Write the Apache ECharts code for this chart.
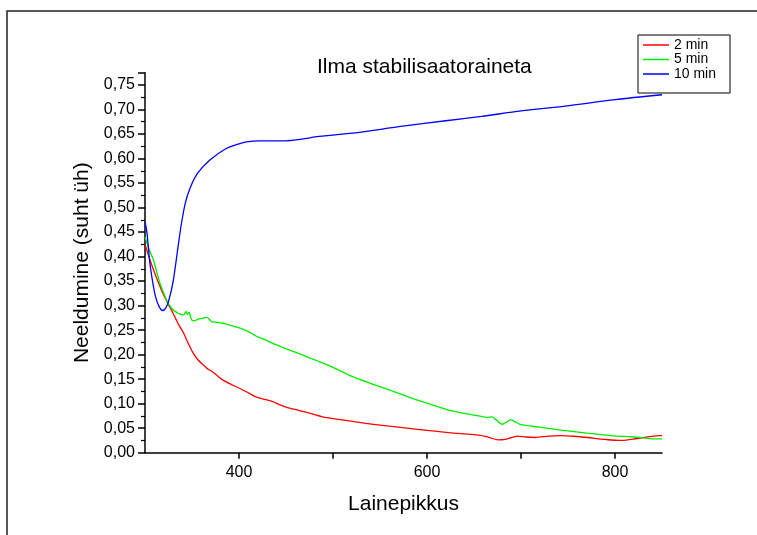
<!DOCTYPE html>
<html>
<head>
<meta charset="utf-8">
<script src="https://cdn.jsdelivr.net/npm/echarts@6/dist/echarts.min.js"></script>
<style>html,body{margin:0;padding:0;background:#fff}#c{width:757px;height:535px}</style>
</head>
<body>
<div id="c"></div>
<script>
var titleText = 'Ilma stabilisaatoraineta';
var xName = 'Lainepikkus';
var yName = 'Neeldumine (suht üh)';
var seriesNames = ['2 min', '5 min', '10 min'];
var xTickValues = [400, 500, 600, 700, 800];
var xLabelValues = [400, 600, 800];

var x2 = [300,305,309,314,319,325,330,335,341,346,351,356,362,366,371,377,383,392,401,410,418,427,436,443,450,464,476,489,510,535,560,588,623,655,665,676,683,690,697,705,715,730,743,760,771,790,807,824,847,850];
var y2 = [0.425,0.395,0.373,0.348,0.325,0.302,0.284,0.264,0.244,0.223,0.204,0.190,0.179,0.172,0.166,0.157,0.148,0.139,0.131,0.122,0.114,0.109,0.104,0.098,0.093,0.086,0.080,0.073,0.067,0.060,0.054,0.048,0.041,0.036,0.032,0.026,0.027,0.031,0.034,0.032,0.031,0.034,0.035,0.033,0.031,0.027,0.025,0.029,0.035,0.035];

var x5 = [300,305,309,312,316,320,323,327,330,334,337,341,343,344,345,347,348,350,353,356,361,365,368,371,377,383,392,401,410,418,427,436,445,454,464,485,500,521,545,570,595,623,640,655,664,669,673,680,685,689,693,699,720,743,770,796,820,847,850];
var y5 = [0.440,0.412,0.393,0.372,0.345,0.325,0.311,0.298,0.291,0.286,0.283,0.281,0.286,0.288,0.282,0.286,0.280,0.270,0.269,0.272,0.274,0.276,0.273,0.267,0.266,0.264,0.259,0.254,0.247,0.238,0.231,0.223,0.216,0.209,0.202,0.186,0.174,0.155,0.138,0.121,0.104,0.087,0.080,0.075,0.072,0.073,0.068,0.058,0.063,0.067,0.064,0.058,0.052,0.046,0.040,0.035,0.032,0.028,0.028];

var x10 = [300,302,305,308,311,315,319,322,325,330,335,339,343,348,356,369,386,400,408,422,450,465,485,530,570,620,658,700,747,800,850];
var y10 = [0.470,0.450,0.390,0.350,0.320,0.298,0.290,0.295,0.308,0.350,0.418,0.470,0.510,0.540,0.570,0.597,0.620,0.630,0.634,0.636,0.636,0.639,0.645,0.654,0.665,0.677,0.686,0.697,0.707,0.720,0.730];

var colors = ['#ff0000', '#00ee00', '#0000ff'];

function pairs(xs, ys) { return xs.map(function (x, i) { return [x, ys[i]]; }); }

var FONT = 'Liberation Sans, Arial, sans-serif';
var chart = echarts.init(document.getElementById('c'), null, { renderer: 'canvas' });
var dataSets = [pairs(x2, y2), pairs(x5, y5), pairs(x10, y10)];

chart.setOption({
  animation: false,
  backgroundColor: '#fff',
  textStyle: { fontFamily: FONT },
  title: {
    text: titleText,
    left: 317, top: 57,
    padding: 0,
    textStyle: { fontFamily: FONT, fontSize: 21, fontWeight: 'normal', color: '#000' }
  },
  legend: {
    orient: 'vertical',
    left: 638, top: 35,
    padding: [3, 14, 12, 5],
    itemGap: 0.5,
    itemWidth: 26, itemHeight: 1.5,
    icon: 'rect',
    borderColor: '#000', borderWidth: 1, borderRadius: 0,
    backgroundColor: '#fff',
    textStyle: { fontFamily: FONT, fontSize: 14, lineHeight: 14, color: '#000' },
    data: seriesNames
  },
  graphic: [{
    type: 'rect', silent: true, z: -10,
    shape: { x: 7, y: 11, width: 800, height: 600 },
    style: { fill: null, stroke: '#222', lineWidth: 1.5 }
  }],
  grid: { left: 145, right: 95, top: 72.7, bottom: 82.3 },
  xAxis: {
    type: 'value', min: 300, max: 850, interval: 100,
    name: xName, nameLocation: 'middle', nameGap: 41,
    nameTextStyle: { fontFamily: FONT, fontSize: 21, color: '#000' },
    axisLine: { lineStyle: { color: '#000', width: 1.5 } },
    axisTick: { length: 6, customValues: xTickValues, lineStyle: { color: '#000', width: 1.5 } },
    axisLabel: {
      margin: 12, color: '#000', fontSize: 16, fontFamily: FONT,
      customValues: xLabelValues
    },
    splitLine: { show: false }
  },
  yAxis: {
    type: 'value', min: 0, max: 0.775, interval: 0.05,
    name: yName, nameLocation: 'middle', nameGap: 52, nameRotate: 90,
    nameTextStyle: { fontFamily: FONT, fontSize: 21, color: '#000' },
    axisLine: { show: true, lineStyle: { color: '#000', width: 1.5 } },
    axisTick: { show: true, length: 7, lineStyle: { color: '#000', width: 1.5 } },
    minorTick: { show: true, splitNumber: 2, length: 4, lineStyle: { color: '#000', width: 1.2 } },
    axisLabel: {
      margin: 10, color: '#000', fontSize: 16, fontFamily: FONT,
      formatter: function (v) {
        if (Math.abs(v * 20 - Math.round(v * 20)) > 1e-6) return '';
        return v.toFixed(2).replace('.', ',');
      }
    },
    splitLine: { show: false }
  },
  series: seriesNames.map(function (n, i) {
    return {
      name: n, type: 'line', data: dataSets[i],
      showSymbol: false, smooth: 0.3,
      lineStyle: { color: colors[i], width: 1.3 },
      itemStyle: { color: colors[i] }
    };
  })
});
</script>
</body>
</html>
